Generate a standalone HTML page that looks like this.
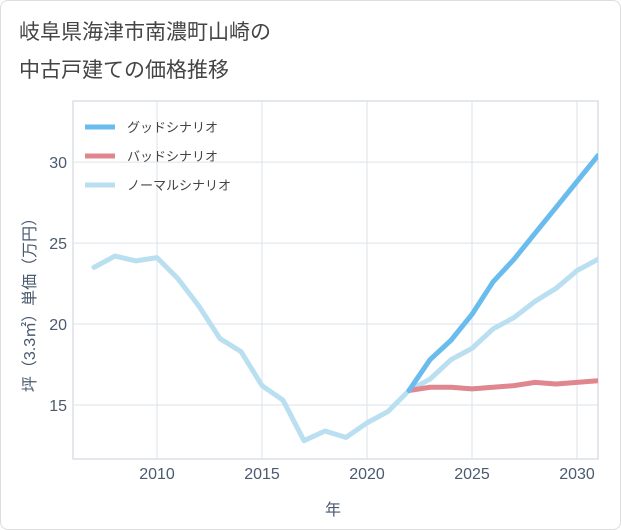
<!DOCTYPE html>
<html><head><meta charset="utf-8">
<style>
body{margin:0;background:#fff;font-family:"Liberation Sans","Noto Sans CJK JP",sans-serif;}
#wrap{position:relative;width:621px;height:530px;border:1px solid #ddd;box-sizing:border-box;border-radius:8px;overflow:hidden;background:#fff}
</style></head><body>
<div id="wrap">
<svg id="chart" width="621" height="530">
<defs><clipPath id="pc"><rect x="72" y="100" width="525" height="358"/></clipPath></defs>
<text x="18" y="38" font-size="21" fill="#444">岐阜県海津市南濃町山崎の</text>
<text x="18" y="76" font-size="21" fill="#444">中古戸建ての価格推移</text>
<g id="grid"></g><g id="series" clip-path="url(#pc)"></g><g id="axes"></g>
<text x="332" y="514" font-size="16" fill="#4a5a70" text-anchor="middle">年</text>
<text transform="translate(34,300) rotate(-90)" font-size="16" fill="#4a5a70" text-anchor="middle">坪（3.3㎡）単価（万円）</text>
<g id="legend"></g>
</svg>
</div>
<script>
const years=[2007,2008,2009,2010,2011,2012,2013,2014,2015,2016,2017,2018,2019,2020,2021,2022,2023,2024,2025,2026,2027,2028,2029,2030,2031];
const normalValues=[23.5,24.2,23.9,24.1,22.8,21.1,19.1,18.3,16.2,15.3,12.8,13.4,13.0,13.9,14.6,15.9,16.6,17.8,18.5,19.7,20.4,21.4,22.2,23.3,24.0];
const futureYears=[2022,2023,2024,2025,2026,2027,2028,2029,2030,2031];
const goodValues=[15.9,17.8,19.0,20.6,22.6,24.0,25.6,27.2,28.8,30.4];
const badValues=[15.9,16.1,16.1,16.0,16.1,16.2,16.4,16.3,16.4,16.5];
const xTicks=[2010,2015,2020,2025,2030];
const yTicks=[15,20,25,30];
const legendLabels=["グッドシナリオ","バッドシナリオ","ノーマルシナリオ"];
const L=72,R=597,T=100,B=458;
const x=v=>L+(v-2006)/(2031-2006)*(R-L);
const y=v=>B-(v-11.67)/(33.77-11.67)*(B-T);
const ns="http://www.w3.org/2000/svg";
function mk(tag,attrs,parent){const e=document.createElementNS(ns,tag);for(const k in attrs)e.setAttribute(k,attrs[k]);parent.appendChild(e);return e;}
const grid=document.getElementById('grid'),axes=document.getElementById('axes'),ser=document.getElementById('series'),leg=document.getElementById('legend');
mk('rect',{x:L,y:T,width:R-L,height:B-T,fill:'none',stroke:'#c8d0da'},grid);
xTicks.forEach(t=>{
 const l=mk('line',{x1:x(t),x2:x(t),y1:T,y2:B,stroke:'#dde3ea'},grid);
 
 
 const tx=mk('text',{x:x(t),y:B+20,'font-size':16,fill:'#4a5a70','text-anchor':'middle'},axes);tx.textContent=t;
 
 
});
yTicks.forEach(t=>{
 const l=mk('line',{x1:L,x2:R,y1:y(t),y2:y(t),stroke:'#dde3ea'},grid);
 
 
 const tx=mk('text',{x:L-6,y:y(t)+6,'font-size':16,fill:'#4a5a70','text-anchor':'end'},axes);tx.textContent=t;
 
 
});
function line(xs,vs,color,name){
 const p=mk('polyline',{points:xs.map((a,i)=>x(a)+','+y(vs[i])).join(' '),fill:'none',stroke:color,'stroke-width':5,'stroke-linejoin':'round','stroke-linecap':'round'},ser);
 
 
}
line(years,normalValues,'#b9dff0','normal-scenario-line');
line(futureYears,badValues,'#e0868f','bad-scenario-line');
line(futureYears,goodValues,'#6bbcee','good-scenario-line');
const lc=['#6bbcee','#e0868f','#b9dff0'];
legendLabels.forEach((s,i)=>{
 const yy=126+i*29;
 const ln=mk('line',{x1:84,x2:114,y1:yy,y2:yy,stroke:lc[i],'stroke-width':5},leg);
 
 
 const t=mk('text',{x:126,y:yy+5,'font-size':13,fill:'#444'},leg);t.textContent=s;
 
 
});
</script>
</body></html>
